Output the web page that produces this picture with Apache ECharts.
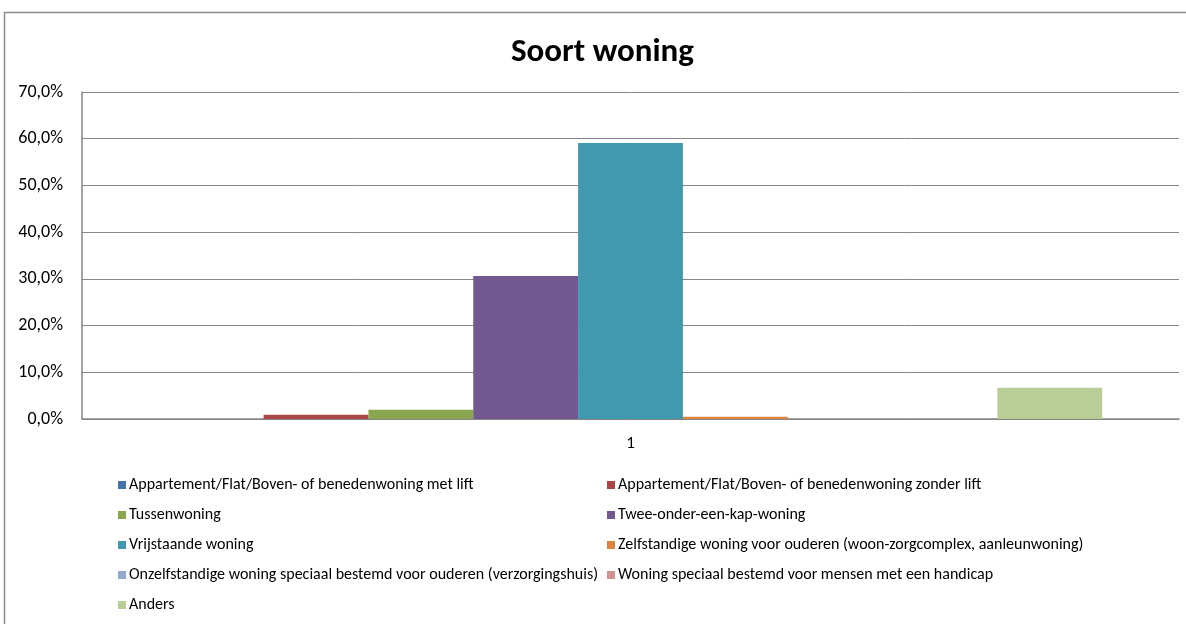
<!DOCTYPE html>
<html>
<head>
<meta charset="utf-8">
<script src="https://cdn.jsdelivr.net/npm/echarts@6/dist/echarts.min.js"></script>
<style>
html,body{margin:0;padding:0;background:#fff;}
#c{width:1186px;height:624px;}
</style>
</head>
<body>
<div id="c"></div>
<script>
const categories = ['1'];
const seriesNames = [
  'Appartement/Flat/Boven- of benedenwoning met lift',
  'Appartement/Flat/Boven- of benedenwoning zonder lift',
  'Tussenwoning',
  'Twee-onder-een-kap-woning',
  'Vrijstaande woning',
  'Zelfstandige woning voor ouderen (woon-zorgcomplex, aanleunwoning)',
  'Onzelfstandige woning speciaal bestemd voor ouderen (verzorgingshuis)',
  'Woning speciaal bestemd voor mensen met een handicap',
  'Anders'
];
const seriesValues = [0.0, 0.9, 2.0, 30.6, 59.1, 0.5, 0.0, 0.0, 6.7];
const seriesColors = ['#4572A7','#AA4643','#89A54E','#71588F','#4198AF','#DB843D','#93A9CF','#D19392','#B9CD96'];
const yTicks = [0, 10, 20, 30, 40, 50, 60, 70];

const font = 'Calibri, Carlito, Lato, "Open Sans", sans-serif';
const chart = echarts.init(document.getElementById('c'));
const series = seriesNames.map((n, i) => ({
  name: n,
  type: 'bar',
  data: [seriesValues[i]],
  barGap: '0%',
  barCategoryGap: '14%',
  itemStyle: { color: seriesColors[i] }
}));
const legendCommon = {
  orient: 'vertical',
  itemWidth: 8,
  itemHeight: 8,
  itemGap: 12,
  icon: 'rect',
  textStyle: { fontFamily: font, fontSize: 16, color: '#000', lineHeight: 18, padding: [0,0,0,-2] },
  padding: 0
};
chart.setOption({
  animation: false,
  title: {
    text: 'Soort woning',
    left: 506,
    top: 31,
    textStyle: { fontFamily: font, fontSize: 33, fontWeight: 'bold', color: '#000' }
  },
  graphic: [{
    type: 'rect',
    shape: { x: 4.5, y: 12.5, width: 1300, height: 800 },
    style: { fill: 'none', stroke: '#8c8c8c', lineWidth: 1.5 },
    silent: true
  }],
  legend: [
    Object.assign({}, legendCommon, { left: 118, top: 476, data: [seriesNames[0], seriesNames[2], seriesNames[4], seriesNames[6], seriesNames[8]] }),
    Object.assign({}, legendCommon, { left: 607, top: 476, data: [seriesNames[1], seriesNames[3], seriesNames[5], seriesNames[7]] })
  ],
  grid: { left: 82, right: 7, top: 92, bottom: 205, containLabel: false },
  xAxis: {
    type: 'category',
    data: categories,
    axisLine: { lineStyle: { color: '#868686', width: 1.5 } },
    axisTick: { show: false },
    axisLabel: { fontFamily: font, fontSize: 17, color: '#000', margin: 16 }
  },
  yAxis: {
    type: 'value',
    min: 0, max: 70, interval: 10,
    axisLine: { show: true, lineStyle: { color: '#868686', width: 1.5 } },
    axisTick: { show: false },
    splitLine: { lineStyle: { color: '#868686', width: 1 } },
    axisLabel: {
      fontFamily: font, fontSize: 18, color: '#000', margin: 19, padding: [6, 0, 0, 0],
      formatter: v => yTicks.includes(v) ? v.toFixed(1).replace('.', ',') + '%' : ''
    }
  },
  series: series
});
</script>
</body>
</html>
